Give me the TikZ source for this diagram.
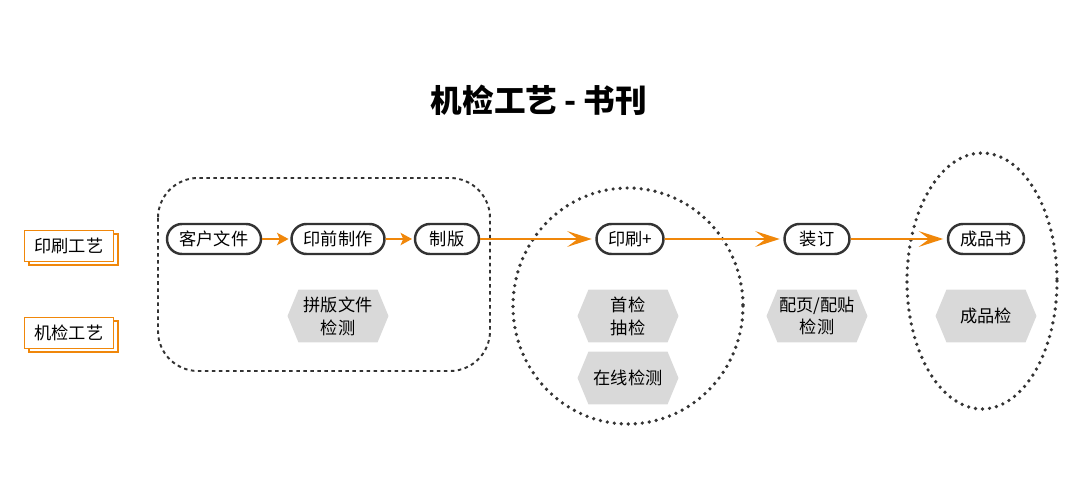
\documentclass[tikz,border=0pt]{standalone}
\usepackage{fontspec}
\setmainfont{Noto Sans CJK SC}
\usetikzlibrary{shapes.misc,arrows.meta,shadows}
\definecolor{org}{HTML}{F0870A}
\definecolor{dk}{HTML}{333333}
\definecolor{hexg}{HTML}{D9D9D9}
\begin{document}
\begin{tikzpicture}[x=0.02cm,y=-0.02cm,
  pill/.style={rounded rectangle, draw=dk, line width=1.4pt, fill=white,
    minimum height=0.6cm, inner sep=0pt, font=\fontsize{9.8}{11}\selectfont},
  hexn/.style={rectangle, minimum width=2.02cm, minimum height=1.06cm, inner sep=0pt,
    align=center, font=\fontsize{9.8}{13}\selectfont,
    path picture={\fill[hexg] (path picture bounding box.west)
      -- ([xshift=0.22cm]path picture bounding box.north west)
      -- ([xshift=-0.22cm]path picture bounding box.north east)
      -- (path picture bounding box.east)
      -- ([xshift=-0.22cm]path picture bounding box.south east)
      -- ([xshift=0.22cm]path picture bounding box.south west) -- cycle;}},
  lab/.style={rectangle, draw=org, line width=1.1pt, fill=white,
    minimum width=1.78cm, minimum height=0.62cm, inner sep=0pt,
    font=\fontsize{9.8}{11}\selectfont,
    copy shadow={shadow xshift=2.8pt, shadow yshift=-1.8pt}},
  arr/.style={draw=org, line width=1.1pt, shorten >=2pt,
    -{Stealth[length=14pt,width=9pt,inset=6pt]}},
  sarr/.style={draw=org, line width=1.1pt, shorten >=1pt,
    -{Stealth[length=6.5pt,width=7pt,inset=1.5pt]}},
  dotln/.style={draw=dk, line width=2.1pt, dash pattern=on 0pt off 4pt, line cap=round},
  dashln/.style={draw=dk, line width=1.1pt, dash pattern=on 2pt off 2pt}
]
\useasboundingbox (0,0) rectangle (1080,486);

% title
\node[font=\fontsize{18}{20}\selectfont\bfseries] (title) at (539,100) {机检工艺 - 书刊};

% left labels
\node[lab] (l1) at (69,246) {印刷工艺};
\node[lab] (l2) at (69,333) {机检工艺};

% group shapes
\draw[dashln, rounded corners=0.8cm] (158,178) rectangle (490,371);
\draw[dotln] (628,306) ellipse [x radius=115, y radius=118];
\draw[dotln] (982,281) ellipse [x radius=75, y radius=128];

% process nodes
\node[pill, minimum width=1.88cm] (kh) at (214,239) {客户文件};
\node[pill, minimum width=1.86cm] (yq) at (338,239) {印前制作};
\node[pill, minimum width=1.28cm] (zb) at (447,239) {制版};
\node[pill, minimum width=1.34cm] (ys) at (630,239) {印刷+};
\node[pill, minimum width=1.30cm] (zd) at (817,239) {装订};
\node[pill, minimum width=1.52cm] (cp) at (986,239) {成品书};

% inspection nodes
\node[hexn] (h1) at (338,316) {拼版文件\\检测};
\node[hexn] (h2) at (628,316) {首检\\抽检};
\node[hexn] (h3) at (628,378) {在线检测};
\node[hexn] (h4) at (817,316) {配页/配贴\\检测};
\node[hexn] (h5) at (986,316) {成品检};

% arrows
\draw[sarr] (kh) -- (yq);
\draw[sarr] (yq) -- (zb);
\draw[arr] (zb) -- (ys);
\draw[arr] (ys) -- (zd);
\draw[arr] (zd) -- (cp);
\end{tikzpicture}
\end{document}
